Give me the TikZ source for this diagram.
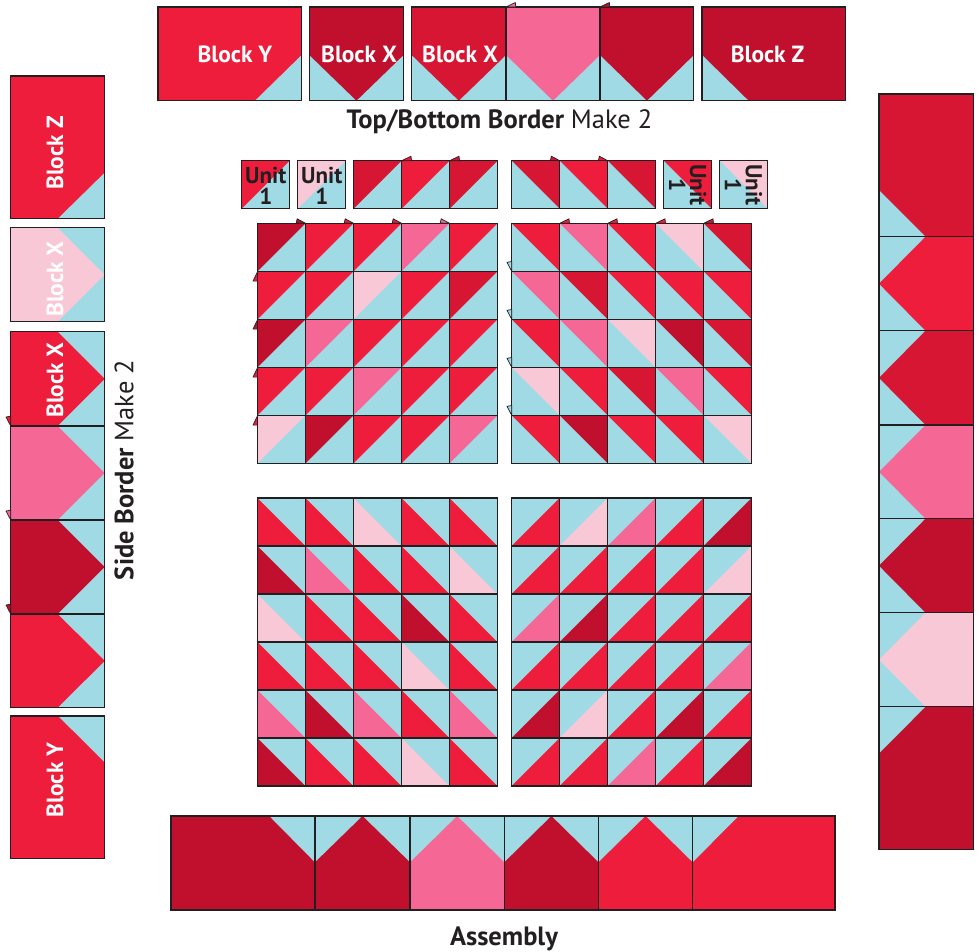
\documentclass[tikz,border=0pt]{standalone}
\usepackage{fontspec}
\newfontfamily\lblfont{PT Sans}
\definecolor{qR}{HTML}{EF1D3C}
\definecolor{qD}{HTML}{C1102D}
\definecolor{qM}{HTML}{D71633}
\definecolor{qP}{HTML}{F56896}
\definecolor{qL}{HTML}{F9C8D6}
\definecolor{qB}{HTML}{A0DAE5}
\definecolor{qK}{HTML}{231F20}
\tikzset{
  outl/.style={draw=qK,line width=1.1pt,line join=miter},
  earshape/.style={draw=qK,line width=.7pt,line join=round},
  blocklbl/.style={text=white,font=\lblfont\bfseries\fontsize{23.4}{25}\selectfont,inner sep=0pt},
  unitlbl/.style={text=qK,font=\lblfont\bfseries\fontsize{23}{21}\selectfont,inner sep=0pt,align=center},
  titlelbl/.style={text=qK,font=\lblfont\fontsize{26.5}{28}\selectfont,inner sep=0pt},
}
% half-square cells of size 48; #1 = colour
\newcommand{\cellUL}[1]{\fill[qB](0,0)rectangle(48,48);\fill[#1](0,0)--(48,0)--(0,48)--cycle;\draw[outl](0,0)rectangle(48,48);}
\newcommand{\cellUR}[1]{\fill[qB](0,0)rectangle(48,48);\fill[#1](0,0)--(48,0)--(48,48)--cycle;\draw[outl](0,0)rectangle(48,48);}
\newcommand{\cellLL}[1]{\fill[qB](0,0)rectangle(48,48);\fill[#1](0,0)--(0,48)--(48,48)--cycle;\draw[outl](0,0)rectangle(48,48);}
\newcommand{\cellLR}[1]{\fill[qB](0,0)rectangle(48,48);\fill[#1](48,0)--(48,48)--(0,48)--cycle;\draw[outl](0,0)rectangle(48,48);}
% #1 x, #2 y, #3 cell macro, #4 rows
\newcommand{\quiltgrid}[4]{%
  \foreach \rowlist [count=\jj from 0] in {#4}{%
    \foreach \cc [count=\ii from 0] in \rowlist{%
      \begin{scope}[shift={({#1+\ii*48},{#2+\jj*48})}]
        #3{q\cc}
      \end{scope}
    }%
  }%
}
% ear tips
\newcommand{\earL}[3]{\draw[earshape,fill=#3](#1,#2)--(#1-9.3,#2-.3)--(#1-8.3,#2-4.5)--cycle;}
\newcommand{\earR}[3]{\draw[earshape,fill=#3](#1,#2)--(#1+9.3,#2-4.5)--(#1+9.8,#2)--cycle;}
\newcommand{\earSideD}[3]{\draw[earshape,fill=#3](#1,#2+.5)--(#1-4.5,#2+9.8)--(#1,#2+9.8)--cycle;}
\newcommand{\earSideU}[3]{\draw[earshape,fill=#3](#1,#2)--(#1-4.7,#2-9)--(#1,#2-9.8)--cycle;}
% horizontal (top) X block: x0,x1,colour
\newcommand{\topX}[3]{%
  \fill[qB](#1,7)rectangle(#2,100.7);
  \fill[#3](#1,7)--(#2,7)--(#2,55)--({(#1+#2)/2},100.7)--(#1,55)--cycle;
  \draw[outl](#1,7)rectangle(#2,100.7);}
% bottom X block
\newcommand{\botX}[3]{%
  \fill[qB](#1,816)rectangle(#2,910);
  \fill[#3](#1,910)--(#2,910)--(#2,862.3)--({(#1+#2)/2},816)--(#1,862.3)--cycle;
  \draw[outl](#1,816)rectangle(#2,910);}
% left column X block: y0,y1,colour
\newcommand{\leftX}[3]{%
  \fill[qB](10.7,#1)rectangle(104.7,#2);
  \fill[#3](10.7,#1)--(57.7,#1)--(104.7,{(#1+#2)/2})--(57.7,#2)--(10.7,#2)--cycle;
  \draw[outl](10.7,#1)rectangle(104.7,#2);}
% right column X block
\newcommand{\rightX}[3]{%
  \fill[qB](879,#1)rectangle(973.3,#2);
  \fill[#3](973.3,#1)--(925.5,#1)--(879,{(#1+#2)/2})--(925.5,#2)--(973.3,#2)--cycle;
  \draw[outl](879,#1)rectangle(973.3,#2);}
\begin{document}
\begin{tikzpicture}[x=1pt,y=-1pt]
\useasboundingbox (0,0) rectangle (980,951);
% ---- top border
\fill[qR](158,7)rectangle(301.7,100.7);
\fill[qB](301.7,55)--(301.7,100.7)--(255,100.7)--cycle;
\draw[outl](158,7)rectangle(301.7,100.7);
\topX{309.3}{403.6}{qD}
\topX{411.7}{506}{qM}
\topX{506}{600}{qP}
\topX{600}{693.9}{qD}
\fill[qD](702,7)rectangle(845.7,100.7);
\fill[qB](702,55)--(702,100.7)--(748.5,100.7)--cycle;
\draw[outl](702,7)rectangle(845.7,100.7);
\earR{506}{7}{qP}
\earR{600}{7}{qD}
\node[blocklbl] (ty) at (235,54) {Block Y};
\node[blocklbl] (tx1) at (359,54) {Block X};
\node[blocklbl] (tx2) at (460,54) {Block X};
\node[blocklbl] (tz) at (767.5,54) {Block Z};
\node[titlelbl] (ttl) at (499.5,121.5) {\bfseries Top/Bottom Border\/ \mdseries Make 2};
% ---- unit row
\begin{scope}[shift={(241.7,160.7)}]\cellUL{qR}\end{scope}
\begin{scope}[shift={(297.7,160.7)}]\cellUL{qL}\end{scope}
\begin{scope}[shift={(663.8,160.7)}]\cellUR{qR}\end{scope}
\begin{scope}[shift={(719.8,160.7)}]\cellUR{qL}\end{scope}
\quiltgrid{353.7}{160.7}{\cellUL}{{M,R,M}}
\quiltgrid{511.7}{160.7}{\cellUR}{{M,R,M}}
\earR{401.7}{160.7}{qR}
\earR{449.7}{160.7}{qM}
\earL{559.7}{160.7}{qM}
\earL{607.7}{160.7}{qR}
\node[unitlbl] (u1) at (265.8,185.5) {Unit\\1};
\node[unitlbl] (u2) at (321.8,185.5) {Unit\\1};
\node[unitlbl,rotate=-90] (u3) at (687.8,184.8) {Unit\\1};
\node[unitlbl,rotate=-90] (u4) at (743.5,184.8) {Unit\\1};
% ---- four grids
\quiltgrid{257.5}{223.3}{\cellUL}{{D,R,R,P,R},{R,R,L,R,M},{D,P,R,R,R},{R,R,P,R,R},{L,D,R,R,P}}
\quiltgrid{511.7}{223.3}{\cellUR}{{R,P,R,L,M},{P,M,R,R,R},{R,P,L,D,M},{L,R,M,P,R},{R,D,R,R,L}}
\quiltgrid{257.5}{498}{\cellLL}{{R,R,L,R,R},{D,P,R,R,L},{L,R,R,D,R},{R,R,R,L,R},{P,D,P,R,P},{D,R,R,L,R}}
\quiltgrid{511.7}{498}{\cellLR}{{R,L,P,R,D},{R,R,R,R,L},{P,D,R,R,R},{R,R,R,R,P},{D,L,R,D,R},{R,R,P,R,D}}
% ears of grid 1
\earL{305.5}{223.3}{qD}\earL{353.5}{223.3}{qR}\earL{401.5}{223.3}{qR}\earL{449.5}{223.3}{qP}
\earSideD{257.5}{271.3}{qR}\earSideD{257.5}{319.3}{qD}\earSideD{257.5}{367.3}{qR}\earSideD{257.5}{415.3}{qR}
% ears of grid 2
\earR{559.7}{223.3}{qR}\earR{607.7}{223.3}{qR}\earR{655.7}{223.3}{qR}\earR{703.7}{223.3}{qM}
\earSideU{511.7}{271.3}{qB}\earSideU{511.7}{319.3}{qB}\earSideU{511.7}{367.3}{qB}\earSideU{511.7}{415.3}{qB}
% ---- left column
\fill[qR](10.7,76)rectangle(104.7,218.3);
\fill[qB](104.7,172.7)--(104.7,218.3)--(58.2,218.3)--cycle;
\draw[outl](10.7,76)rectangle(104.7,218.3);
\leftX{227.7}{321.7}{qL}
\leftX{331.7}{426}{qR}
\leftX{426}{520}{qP}
\leftX{520}{614}{qD}
\leftX{614}{707.7}{qR}
\fill[qR](10.7,716)rectangle(104.7,858.3);
\fill[qB](104.7,716)--(104.7,762.3)--(58.2,716)--cycle;
\draw[outl](10.7,716)rectangle(104.7,858.3);
\earSideU{10.7}{426}{qR}\earSideU{10.7}{520}{qP}\earSideU{10.7}{614}{qD}
\node[blocklbl,rotate=90] (lz) at (55,153) {Block Z};
\node[blocklbl,rotate=90] (lx1) at (55,279) {Block X};
\node[blocklbl,rotate=90] (lx2) at (55,380) {Block X};
\node[blocklbl,rotate=90] (ly) at (55,780) {Block Y};
\node[titlelbl,rotate=90] (stl) at (124,470) {\bfseries Side Border\/ \mdseries Make 2};
% ---- right column
\fill[qM](879,94)rectangle(973.3,236.7);
\fill[qB](879,190)--(879,236.7)--(925.5,236.7)--cycle;
\draw[outl](879,94)rectangle(973.3,236.7);
\rightX{236.7}{330.7}{qR}
\rightX{330.7}{425}{qM}
\rightX{425}{518.7}{qP}
\rightX{518.7}{612.7}{qD}
\rightX{612.7}{706.7}{qL}
\fill[qD](879,706.7)rectangle(973.3,849.3);
\fill[qB](879,706.7)--(925.5,706.7)--(879,753.3)--cycle;
\draw[outl](879,706.7)rectangle(973.3,849.3);
% ---- bottom assembly
\fill[qD](171,816)rectangle(315,910);
\fill[qB](269.3,816)--(315,816)--(315,862.3)--cycle;
\draw[outl](171,816)rectangle(315,910);
\botX{315}{410}{qD}
\botX{410}{504.3}{qP}
\botX{504.3}{598.5}{qD}
\botX{598.5}{692.6}{qR}
\fill[qR](692.6,816)rectangle(835,910);
\fill[qB](692.6,816)--(738.5,816)--(692.6,862.3)--cycle;
\draw[outl](692.6,816)rectangle(835,910);
\node[titlelbl] (asm) at (504,938.5) {\bfseries Assembly};
\end{tikzpicture}
\end{document}
